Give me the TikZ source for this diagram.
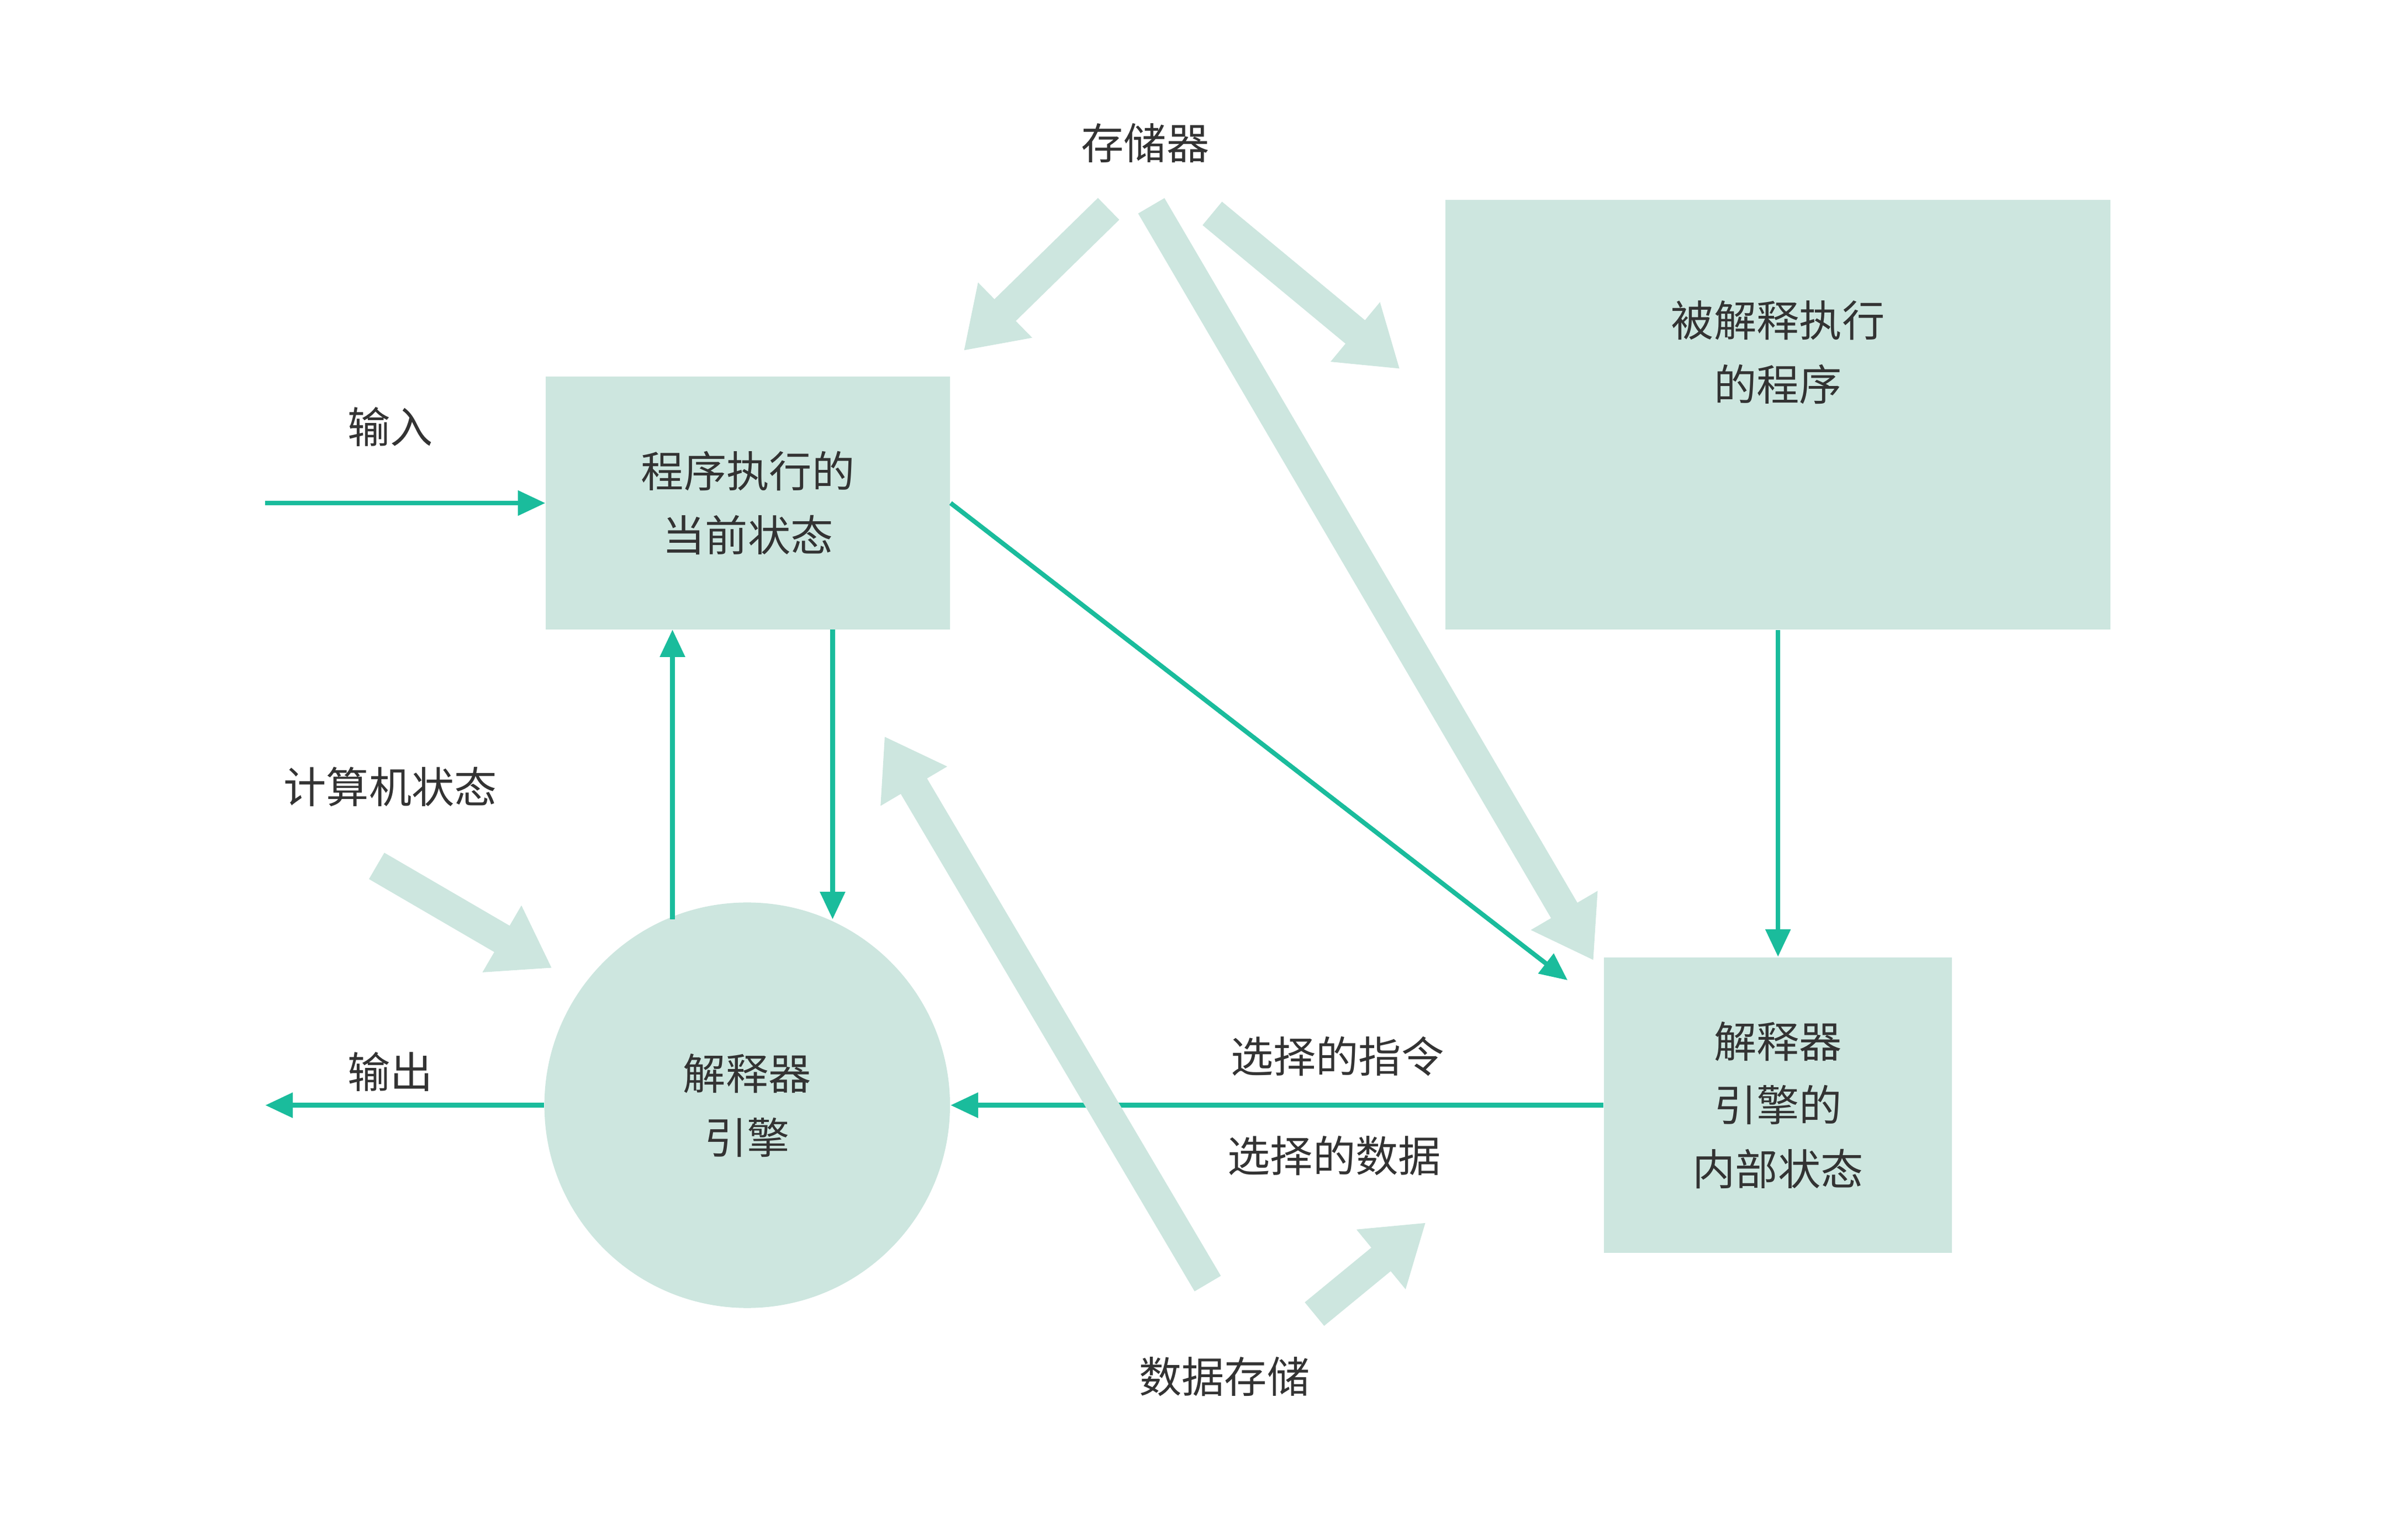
\documentclass[tikz,border=0pt]{standalone}
\usepackage{fontspec}
\setmainfont{Noto Sans CJK SC}
\usetikzlibrary{arrows.meta}
\definecolor{lg}{HTML}{CDE6DF}
\definecolor{gr}{HTML}{1ABC9C}
\definecolor{tx}{HTML}{333333}
\begin{document}
\begin{tikzpicture}[x=0.5pt,y=-0.5pt,
  box/.style={fill=lg,draw=none,inner sep=0,align=center,text=tx,font=\fontsize{14}{21}\selectfont},
  lbl/.style={text=tx,font=\fontsize{14}{21}\selectfont,inner sep=0},
  ga/.style={draw=gr,line width=1.5pt,-{Triangle[length=9pt,width=8pt]}},
  ta/.style={draw=lg,line width=10pt,-{Triangle[length=19pt,width=24pt]}}]
\useasboundingbox (0,0) rectangle (1568,1010);
\node[box,minimum width=132.5pt,minimum height=83pt] (b1) at (490.5,330) {程序执行的\\当前状态};
\node[box,minimum width=218pt,minimum height=141pt] (b2) at (1166,272) {被解释执行\\的程序\\[21pt]};
\node[box,minimum width=114pt,minimum height=97pt] (b3) at (1166,725) {解释器\\引擎的\\内部状态};
\node[box,circle,minimum size=133pt] (c) at (490,725) {解释器\\引擎};
\node[lbl] (in) at (256,280) {输入};
\node[lbl] (out) at (256,703) {输出};
\node[lbl] (cs) at (256,516) {计算机状态};
\node[lbl] (mem) at (751,94) {存储器};
\node[lbl] (ds) at (803,903) {数据存储};
\node[lbl] (si) at (877,693) {选择的指令};
\node[lbl] (sd) at (875,758) {选择的数据};
\coordinate (inS) at (174,330);
\coordinate (outE) at (174,725);
\draw[ga] (inS) -- (b1.west);
\draw[ga] (c.west) -- (outE);
\draw[ga] (441,603) -- (441,413);
\draw[ga] (546,413) -- (546,603);
\draw[ga] (b1.east) -- (1028,643);
\draw[ga] (b2.south) -- (b3.north);
\draw[ga] (b3.west) -- (c.east);
\draw[ta] (247,568) -- (362,635);
\draw[ta] (727,137) -- (632,230);
\draw[ta] (795,140) -- (918,242);
\draw[ta] (755,135) -- (1045,630);
\draw[ta] (792,842) -- (580,483);
\draw[ta] (862,862) -- (935,802);
\end{tikzpicture}
\end{document}
